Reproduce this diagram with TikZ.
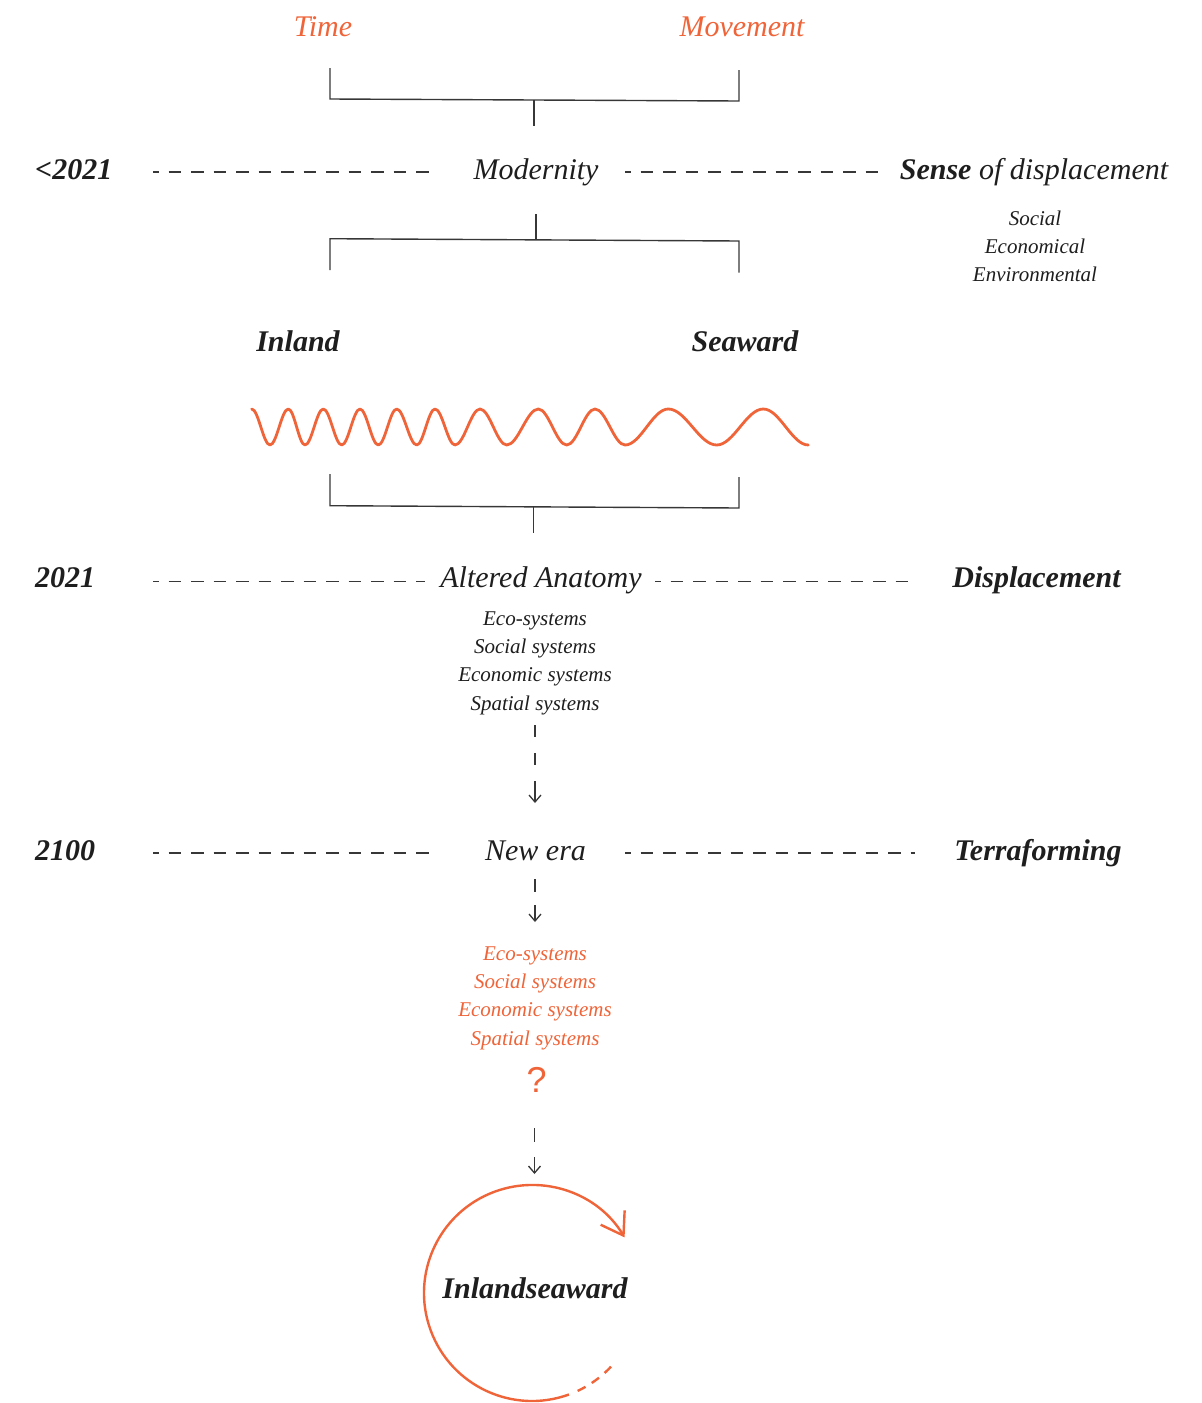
\documentclass[tikz,border=0pt]{standalone}
\usepackage{fontspec}
\setmainfont{Liberation Serif}
\newfontfamily\qfont{Liberation Sans}
\usetikzlibrary{arrows.meta}

\definecolor{accent}{RGB}{239,100,56}
\definecolor{ink}{RGB}{30,30,30}
\definecolor{rule}{RGB}{55,55,55}

\newcommand\bigtxt{\fontsize{30}{36}\selectfont\itshape}
\newcommand\smalltxt{\fontsize{21}{28}\selectfont\itshape}

\begin{document}
\begin{tikzpicture}[x=1pt,y=-1pt,
  lbl/.style={font=\bigtxt, text=ink, inner sep=0pt, anchor=base},
  blbl/.style={font=\bigtxt\bfseries, text=ink, inner sep=0pt, anchor=base},
  olbl/.style={font=\bigtxt, text=accent, inner sep=0pt, anchor=base},
  slbl/.style={font=\smalltxt, text=ink, inner sep=0pt, anchor=base},
  oslbl/.style={font=\smalltxt, text=accent, inner sep=0pt, anchor=base},
  bracket/.style={draw=rule, line width=1.4pt},
  dline/.style={draw=rule, line width=1.3pt, dash pattern=on 12.5pt off 10pt, dash phase=7pt},
  darrow/.style={draw=rule, line width=1.3pt, -{Straight Barb[length=7pt,width=12pt]}},
  wave/.style={draw=accent, line width=2.8pt, line cap=round, line join=round},
  loop/.style={draw=accent, line width=2.4pt}
]
\useasboundingbox (0,0) rectangle (1202,1403);

% ---- top: Time / Movement joined into Modernity
\node[olbl] (time) at (323,36) {Time};
\node[olbl] (move) at (742,36) {Movement};
\coordinate (b1l) at (330,68);
\coordinate (b1lc) at (330,99);
\coordinate (b1rc) at (739,101);
\coordinate (b1r) at (739,70);
\coordinate (b1s) at (534,100);
\coordinate (b1e) at (534,126);
\draw[bracket] (b1l) -- (b1lc) -- (b1rc) -- (b1r);
\draw[bracket] (b1s) -- (b1e);

% ---- row < 2021
\node[blbl, anchor=base west] (y1) at (35,179) {<2021};
\node[lbl] (mod) at (536,179) {Modernity};
\node[lbl] (sense) at (1034,179) {\textbf{Sense} of displacement};
\coordinate (d1a) at (153,172);
\coordinate (d1b) at (437,172);
\coordinate (d1c) at (625,172);
\coordinate (d1d) at (882,172);
\draw[dline] (d1a) -- (d1b);
\draw[dline] (d1c) -- (d1d);
\node[slbl] (soc) at (1035,225) {Social};
\node[slbl] (eco) at (1035,253.3) {Economical};
\node[slbl] (env) at (1035,281.7) {Environmental};

% ---- split into Inland / Seaward
\coordinate (b2s) at (536,214);
\coordinate (b2e) at (536,239.5);
\coordinate (b2l) at (330,270);
\coordinate (b2lc) at (330,238.7);
\coordinate (b2rc) at (739,241);
\coordinate (b2r) at (739,272.7);
\draw[bracket] (b2s) -- (b2e);
\draw[bracket] (b2l) -- (b2lc) -- (b2rc) -- (b2r);
\node[blbl] (inland) at (298,351) {Inland};
\node[blbl] (seaward) at (745,351) {Seaward};

% ---- wave with a growing wavelength
\draw[wave] (251.7,409) foreach \m/\e/\v in {
  260.85/270/445, 279.15/288.3/409, 296.65/305/445, 314.15/323.3/409,
  332.5/341.7/445, 350.85/360/409, 369.15/378.3/445, 387.5/396.7/409,
  406.7/416.7/445, 425.85/435/409, 445/455/445, 467.5/480/409,
  493.35/506.7/445, 522.5/538.3/409, 552.5/566.7/445, 580.85/595/409,
  610/625/445, 646.65/668.3/409, 692.5/716.7/445, 740/763.3/409,
  785.8/808.3/445} { cos (\m,427) sin (\e,\v) };

% ---- join into Altered Anatomy
\coordinate (b3l) at (330,474);
\coordinate (b3lc) at (330,505.7);
\coordinate (b3rc) at (739,508);
\coordinate (b3r) at (739,477);
\coordinate (b3s) at (533.5,507);
\coordinate (b3e) at (533.5,532.7);
\draw[bracket] (b3l) -- (b3lc) -- (b3rc) -- (b3r);
\draw[bracket] (b3s) -- (b3e);

% ---- row 2021
\node[blbl, anchor=base west] (y2) at (35,587) {2021};
\node[lbl] (alt) at (541,587) {Altered Anatomy};
\node[blbl] (disp) at (1036.5,587) {Displacement};
\coordinate (d2a) at (153,581.5);
\coordinate (d2b) at (425,581.5);
\coordinate (d2c) at (655,581.5);
\coordinate (d2d) at (914,581.5);
\draw[dline] (d2a) -- (d2b);
\draw[dline] (d2c) -- (d2d);
\node[slbl] (s1) at (535,625) {Eco-systems};
\node[slbl] (s2) at (535,653.3) {Social systems};
\node[slbl] (s3) at (535,681.7) {Economic systems};
\node[slbl] (s4) at (535,710) {Spatial systems};

\coordinate (a1s) at (535,725);
\coordinate (a1e) at (535,803);
\draw[darrow, dash pattern=on 12pt off 16pt on 12pt off 16pt on 40pt] (a1s) -- (a1e);

% ---- row 2100
\node[blbl, anchor=base west] (y3) at (35,860) {2100};
\node[lbl] (new) at (535.5,860) {New era};
\node[blbl] (terra) at (1038,860) {Terraforming};
\coordinate (d3a) at (153,853);
\coordinate (d3b) at (437,853);
\coordinate (d3c) at (625,853);
\coordinate (d3d) at (915,853);
\draw[dline] (d3a) -- (d3b);
\draw[dline] (d3c) -- (d3d);

\coordinate (a2s) at (535,879);
\coordinate (a2e) at (535,922);
\draw[darrow, dash pattern=on 13pt off 13pt on 40pt] (a2s) -- (a2e);

\node[oslbl] (o1) at (535,960) {Eco-systems};
\node[oslbl] (o2) at (535,988.3) {Social systems};
\node[oslbl] (o3) at (535,1016.7) {Economic systems};
\node[oslbl] (o4) at (535,1045) {Spatial systems};
\node[inner sep=0pt, anchor=base, text=accent, font=\qfont\fontsize{36}{40}\selectfont] (q) at (536.7,1092) {?};

\coordinate (a3s) at (534.5,1128);
\coordinate (a3e) at (534.5,1174);
\draw[darrow, dash pattern=on 14pt off 15pt on 40pt] (a3s) -- (a3e);

% ---- closing loop
\coordinate (cc) at (532,1293);
\draw[loop, -{Straight Barb[length=21pt,width=28pt]}] (cc) ++(70:108) arc[start angle=70, end angle=329, radius=108];
\draw[loop, dash pattern=on 9pt off 7.3pt] (cc) ++(43:108) arc[start angle=43, end angle=65, radius=108];
\node[blbl] (inl) at (535,1298) {Inlandseaward};

\end{tikzpicture}
\end{document}
